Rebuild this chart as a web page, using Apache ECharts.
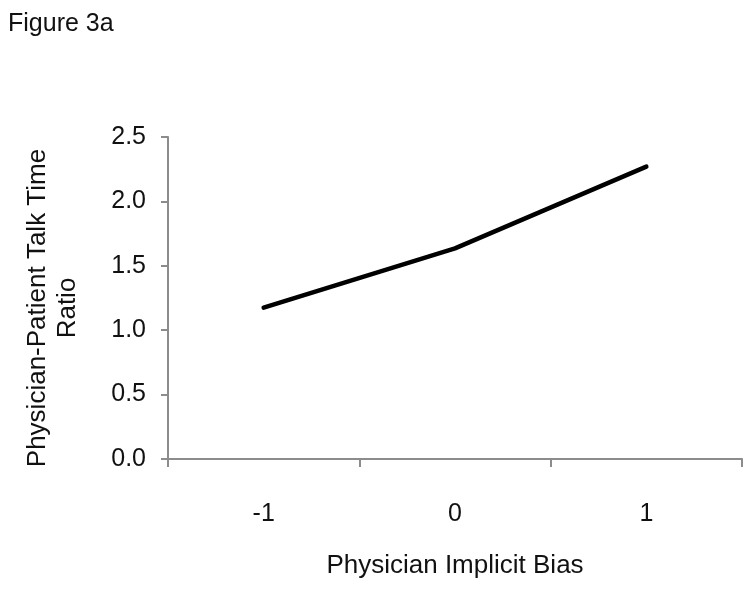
<!DOCTYPE html>
<html lang="en">
<head>
    <meta charset="UTF-8">
    <title>Figure 3a</title>
    <script src="https://cdn.jsdelivr.net/npm/echarts@6.0.0/dist/echarts.min.js"></script>
    <style>
        body { margin: 0; background: #fff; }
        #chart { width: 751px; height: 590px; }
    </style>
</head>
<body>
<div id="chart"></div>
<script>
    // values
    var biasLevels = ['-1', '0', '1'];
    var talkRatio = [1.175, 1.635, 2.27];
    var yTicks = { min: 0, max: 2.5, step: 0.5 };

    var font = '"Liberation Sans", Arial, sans-serif';
    var axisGrey = '#8c8c8c';

    var chart = echarts.init(document.getElementById('chart'));
    chart.setOption({
        animation: false,
        backgroundColor: '#fff',
        title: {
            text: 'Figure 3a',
            left: 3, top: 7,
            textStyle: { fontFamily: font, fontSize: 25, fontWeight: 'normal', color: '#111' }
        },
        grid: { left: 168, right: 9, top: 137, bottom: 131, containLabel: false },
        xAxis: {
            type: 'category',
            data: biasLevels,
            boundaryGap: true,
            name: 'Physician Implicit Bias',
            nameLocation: 'middle',
            nameGap: 94,
            nameTextStyle: { fontFamily: font, fontSize: 26, color: '#111' },
            axisLine: { lineStyle: { color: axisGrey, width: 2 } },
            axisTick: { show: true, length: 8, alignWithLabel: false, lineStyle: { color: axisGrey, width: 2 } },
            axisLabel: { margin: 43, fontFamily: font, fontSize: 25, color: '#111' },
            splitLine: { show: false }
        },
        yAxis: {
            type: 'value',
            min: yTicks.min, max: yTicks.max, interval: yTicks.step,
            name: 'Physician-Patient Talk Time\nRatio',
            nameLocation: 'middle',
            nameGap: 85,
            // right padding nudges the rotated title down a little, as in the original
            nameTextStyle: { fontFamily: font, fontSize: 26, color: '#111', lineHeight: 30, padding: [0, 20, 0, 0] },
            axisLine: { show: true, lineStyle: { color: axisGrey, width: 2 } },
            axisTick: { show: true, length: 7, lineStyle: { color: axisGrey, width: 2 } },
            axisLabel: {
                margin: 22, fontFamily: font, fontSize: 25, color: '#111',
                formatter: function (v) { return v.toFixed(1); }
            },
            splitLine: { show: false }
        },
        series: [{
            type: 'line',
            data: talkRatio,
            showSymbol: false,
            symbol: 'none',
            lineStyle: { color: '#000', width: 4.5, cap: 'round', join: 'round' }
        }]
    });
</script>
</body>
</html>
